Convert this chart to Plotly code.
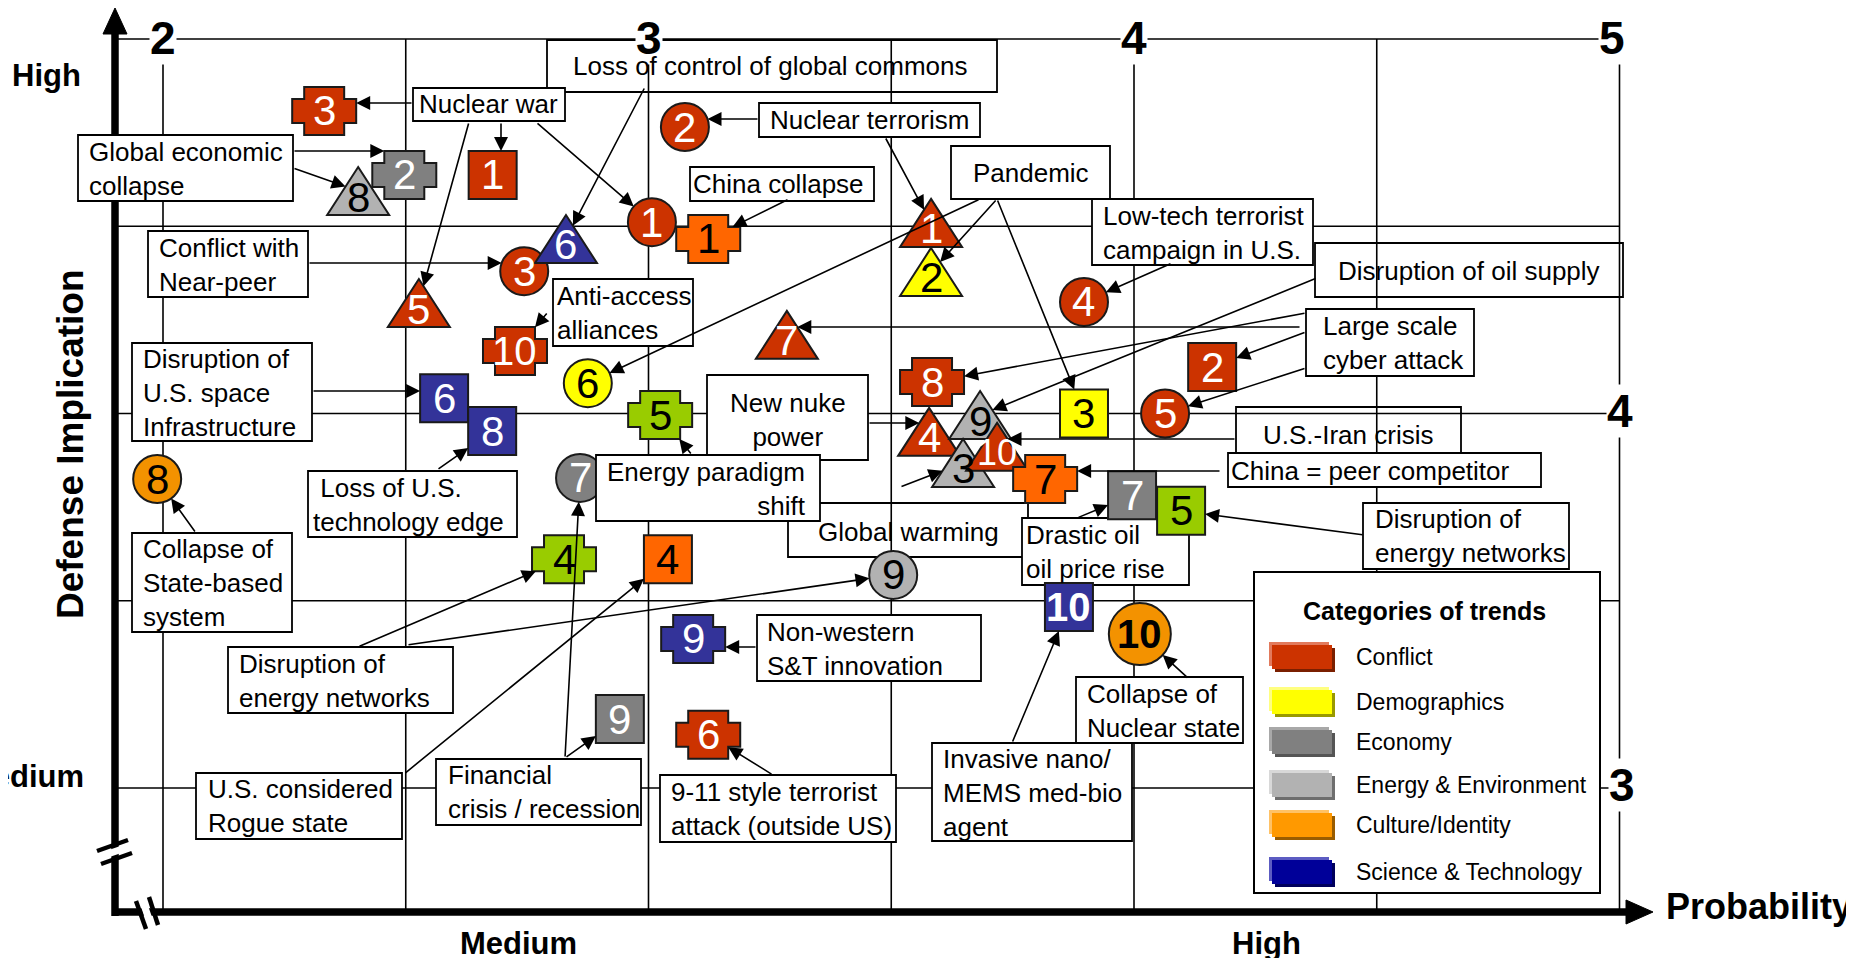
import math
import plotly.graph_objects as go

W, H = 1854, 958
PAGE_PAD = 8  # the html body margin pushes the figure 8 px right and down
FONT = "Liberation Sans, Arial, sans-serif"


# page pixels <-> chart units (x: probability, y: defense implication)
def X(px):
    return 2 + (px - 163) / 485.5


def Y(py):
    return 5 - (py - 39) / 374.5


def PX(x):
    return 163 + (x - 2) * 485.5


def PY(y):
    return 39 + (5 - y) * 374.5


# ---- trends, listed in drawing order (later ones sit on top) ----
probability = [2.332, 2.679, 3.075, 2.402, 2.497, 3.007, 3.123, 2.744, 2.830, 3.582,
               3.582, 2.527, 2.725, 2.875, 3.285, 3.897, 4.161, 4.064, 3.897, 3.584,
               3.578, 3.683, 3.648, 3.718, 3.817, 2.579, 2.678, 3.024, 1.988, 2.859,
               3.996, 4.097, 2.826, 3.040, 3.504, 3.866, 4.012, 3.092, 2.941, 3.123]
implication = [4.808, 4.637, 4.765, 4.594, 4.637, 4.511, 4.466, 4.380, 4.466, 4.509,
               4.378, 4.295, 4.167, 4.081, 4.210, 4.298, 4.124, 4.000, 4.000, 4.084,
               3.951, 3.996, 3.868, 3.911, 3.825, 4.041, 3.953, 3.996, 3.825, 3.828,
               3.782, 3.740, 3.611, 3.611, 3.569, 3.483, 3.411, 3.398, 3.184, 3.142]
trend_no = ["3", "1", "2", "8", "2", "1", "1", "3", "6", "1",
            "2", "5", "10", "6", "7", "4", "2", "5", "3", "8",
            "4", "9", "3", "10", "7", "6", "8", "5", "8", "7",
            "7", "5", "4", "4", "9", "10", "10", "9", "9", "6"]
category = ["conflict", "conflict", "conflict", "energy", "economy", "conflict", "orange", "conflict", "scitech", "conflict",
            "demographics", "conflict", "conflict", "demographics", "conflict", "conflict", "conflict", "conflict", "demographics", "conflict",
            "conflict", "energy", "energy", "conflict", "orange", "scitech", "scitech", "green", "culture", "economy",
            "economy", "green", "green", "orange", "energy", "scitech", "culture", "scitech", "economy", "conflict"]
symbol = ["cross", "square", "circle", "triangle", "cross", "circle", "cross", "circle", "triangle", "triangle",
          "triangle", "triangle", "cross", "circle", "triangle", "circle", "square", "circle", "square", "cross",
          "triangle", "triangle", "triangle", "triangle", "cross", "square", "square", "cross", "circle", "circle",
          "square", "square", "cross", "square", "circle", "square", "circle", "cross", "square", "cross"]

# labels: text, box (left, right, top, bottom px), opaque, text x/y px, alignment
labels = [
    ("Loss of control of global commons", (547, 997, 40, 92), False, 770, 66, "center"),
    ("Nuclear war", (413, 565, 88, 121), True, 488, 104, "center"),
    ("Nuclear terrorism", (759, 980, 103, 137), True, 869, 120, "center"),
    ("Global economic<br>collapse", (78, 293, 135, 201), True, 87, 169, "left"),
    ("China collapse", (690, 874, 167, 201), True, 778, 184, "center"),
    ("Pandemic", (951, 1110, 146, 199), True, 1031, 173, "center"),
    ("Low-tech terrorist<br>campaign in U.S.", (1092, 1313, 199, 265), True, 1101, 233, "left"),
    ("Conflict with<br>Near-peer", (148, 308, 231, 297), True, 157, 265, "left"),
    ("Disruption of oil supply", (1315, 1623, 243, 297), False, 1469, 271, "center"),
    ("Anti-access<br>alliances", (553, 693, 279, 346), True, 555, 313, "left"),
    ("Large scale<br>cyber attack", (1306, 1474, 309, 376), True, 1321, 343, "left"),
    ("Disruption of<br>U.S. space<br>Infrastructure", (132, 312, 343, 441), True, 141, 393, "left"),
    ("New nuke<br>power", (707, 868, 375, 460), True, 788, 420, "center"),
    ("U.S.-Iran crisis", (1236, 1461, 407, 453), False, 1348, 435, "center"),
    ("China = peer competitor", (1228, 1541, 453, 487), True, 1229, 471, "left"),
    (" Loss of U.S.<br>technology edge", (308, 517, 471, 537), True, 311, 505, "left"),
    ("Global warming", (788, 1028, 503, 557), False, 908, 532, "center"),
    ("Energy paradigm<br>shift", (596, 820, 455, 521), True, 808, 489, "right"),
    ("Drastic oil<br>oil price rise", (1022, 1189, 518, 585), True, 1024, 552, "left"),
    ("Disruption of<br>energy networks", (1363, 1569, 503, 569), True, 1373, 536, "left"),
    ("Collapse of<br>State-based<br>system", (132, 292, 533, 632), True, 141, 583, "left"),
    ("Disruption of<br>energy networks", (228, 453, 647, 713), True, 237, 681, "left"),
    ("Non-western<br>S&T innovation", (757, 981, 615, 681), True, 765, 649, "left"),
    ("Collapse of<br>Nuclear state", (1076, 1243, 677, 743), True, 1085, 711, "left"),
    ("U.S. considered<br>Rogue state", (196, 402, 773, 839), True, 206, 806, "left"),
    ("Financial<br>crisis / recession", (436, 641, 759, 825), True, 446, 792, "left"),
    ("9-11 style terrorist<br>attack (outside US)", (660, 896, 775, 842), True, 669, 809, "left"),
    ("Invasive nano/<br>MEMS med-bio<br>agent", (932, 1132, 743, 841), True, 941, 793, "left"),
]

# arrows: tail (px) -> trend index, aim: c = centre, h = horizontal, v = vertical
arrows = [
    (413, 103, 0, "h"), (501, 122, 1, "v"), (469, 122, 11, "c"), (536, 122, 5, "c"),
    (645, 87, 8, "c"), (293, 151, 4, "h"), (293, 168, 3, "c"), (759, 119, 2, "h"),
    (885, 137, 9, "c"), (789, 199, 6, "c"), (997, 199, 10, "c"), (997, 199, 18, "c"),
    (980, 199, 13, "c"), (1172, 263, 15, "c"), (308, 263, 7, "h"), (1317, 278, 21, "c"),
    (1301, 327, 14, "h"), (1306, 313, 19, "c"), (1306, 332, 16, "c"), (1306, 368, 17, "c"),
    (312, 391, 25, "h"), (437, 470, 26, "c"), (692, 455, 27, "c"), (868, 423, 20, "h"),
    (900, 487, 22, "c"), (1236, 439, 23, "h"), (1221, 471, 24, "h"), (1077, 518, 30, "c"),
    (1364, 535, 31, "c"), (196, 533, 28, "c"), (358, 647, 32, "c"), (407, 645, 34, "c"),
    (404, 774, 33, "c"), (565, 758, 29, "c"), (565, 758, 38, "c"), (757, 647, 37, "h"),
    (773, 775, 39, "c"), (1012, 743, 35, "c"), (1189, 679, 36, "c"), (548, 312, 12, "c"),
]

legend_names = ["Conflict", "Demographics", "Economy", "Energy & Environment",
                "Culture/Identity", "Science & Technology"]

fill = {"conflict": "#CC3300", "demographics": "#FFFF00", "economy": "#808080",
        "energy": "#B2B2B2", "culture": "#F39200", "scitech": "#333399",
        "orange": "#FF6600", "green": "#99CC00"}
ink = {"conflict": "white", "demographics": "black", "economy": "white",
       "energy": "black", "culture": "black", "scitech": "white",
       "orange": "black", "green": "black"}
legend_fill = ["#CC3300", "#FFFF00", "#808080", "#B2B2B2", "#FF9900", "#000099"]
legend_light = ["#E27A5C", "#FFFF80", "#A8A8A8", "#D8D8D8", "#FFC266", "#5C5CC2"]
legend_dark = ["#7A1F00", "#999900", "#555555", "#6E6E6E", "#995C00", "#00005C"]
legend_rows = [657, 702, 742, 785, 825, 872]

big_circles = {36}
bold_numbers = {35, 36}
behind_labels = {29}

OUTLINE = {
    "square": [(-24, -24), (24, -24), (24, 24), (-24, 24)],
    "cross": [(-20, -24), (20, -24), (20, -12), (32, -12), (32, 12), (20, 12), (20, 24),
              (-20, 24), (-20, 12), (-32, 12), (-32, -12), (-20, -12)],
    "triangle": [(0, -24), (31, 24), (-31, 24)],
}


def outline(i):
    if symbol[i] == "circle":
        r = 31 if i in big_circles else 24
        return [(r * math.cos(k * math.pi / 24), r * math.sin(k * math.pi / 24)) for k in range(48)]
    return OUTLINE[symbol[i]]


def hit(poly, ox, oy, dx, dy):
    best = None
    n = len(poly)
    for i in range(n):
        x1, y1 = poly[i][0] - ox, poly[i][1] - oy
        x2, y2 = poly[(i + 1) % n][0] - ox, poly[(i + 1) % n][1] - oy
        ex, ey = x2 - x1, y2 - y1
        den = ex * dy - dx * ey
        if abs(den) < 1e-9:
            continue
        t = (ex * y1 - x1 * ey) / den
        s = (dx * y1 - dy * x1) / den
        if t > 0 and -1e-6 <= s <= 1 + 1e-6:
            best = t if best is None else min(best, t)
    return best or 0


def path(pts):
    return "M " + " L ".join(f"{X(px):.5f},{Y(py):.5f}" for px, py in pts) + " Z"


shapes = []


def seg(x0, y0, x1, y1, w=1.6, color="black"):
    shapes.append(dict(type="line", xref="x", yref="y", x0=x0, y0=y0, x1=x1, y1=y1,
                       line=dict(color=color, width=w)))


def rect(x0, x1, y0, y1, color, line_color=None, lw=1.8):
    shapes.append(dict(type="rect", xref="x", yref="y", x0=X(x0), x1=X(x1), y0=Y(y1), y1=Y(y0),
                       fillcolor=color, line=dict(color=line_color or "rgba(0,0,0,0)", width=lw if line_color else 0)))


def marker(i):
    cx, cy = PX(probability[i]), PY(implication[i])
    col = fill[category[i]]
    edge = dict(color="#1a1a1a", width=2)
    if symbol[i] == "circle":
        r = 31 if i in big_circles else 24
        shapes.append(dict(type="circle", xref="x", yref="y", x0=X(cx - r), x1=X(cx + r),
                           y0=Y(cy + r), y1=Y(cy - r), fillcolor=col, line=edge))
    else:
        shapes.append(dict(type="path", xref="x", yref="y",
                           path=path([(cx + dx, cy + dy) for dx, dy in OUTLINE[symbol[i]]]),
                           fillcolor=col, line=edge))


# grid
for gx in [2, 2.5, 3, 3.5, 4, 4.5, 5]:
    seg(gx, Y(912), gx, 5)
for gy in [3, 3.5, 4, 4.5, 5]:
    seg(X(115), gy, 5, gy)

# axes with arrow heads and break marks
seg(X(115), Y(916), X(115), Y(30), w=7.5)
shapes.append(dict(type="path", xref="x", yref="y", path=path([(115, 8), (127, 34), (103, 34)]),
                   fillcolor="black", line=dict(color="black", width=1)))
seg(X(112), Y(912), X(1630), Y(912), w=7.5)
shapes.append(dict(type="path", xref="x", yref="y", path=path([(1653, 912), (1626, 900), (1626, 924)]),
                   fillcolor="black", line=dict(color="black", width=1)))
seg(X(99), Y(857), X(131), Y(846), w=7, color="white")
seg(X(97), Y(851), X(128), Y(840), w=4.5)
seg(X(101), Y(864), X(132), Y(853), w=4.5)
seg(X(142), Y(899), X(152), Y(928), w=7, color="white")
seg(X(136), Y(901), X(146), Y(929), w=4.5)
seg(X(149), Y(897), X(158), Y(925), w=4.5)

for i in range(len(probability)):
    if i in behind_labels:
        marker(i)

for text, (x0, x1, y0, y1), opaque, tx, ty, al in labels:
    rect(x0, x1, y0, y1, "white" if opaque else "rgba(0,0,0,0)", "black")

# legend box
rect(1254, 1600, 572, 893, "white", "black", 2)
for k, yc in enumerate(legend_rows):
    rect(1269, 1329, yc - 15, yc + 9, legend_light[k])
    rect(1275, 1335, yc - 9, yc + 15, legend_dark[k])
    rect(1272, 1332, yc - 12, yc + 12, legend_fill[k])

for i in range(len(probability)):
    if i not in behind_labels:
        marker(i)

ann = []

# grid level numbers
for txt, x, y, xs in [("2", 2, 5, 0), ("3", 3, 5, 0), ("4", 4, 5, 0), ("5", 5, 5, -8),
                      ("4", 5, 4, 0), ("3", 5, 3, 2)]:
    ann.append(dict(x=x, y=y, text=f"<b>{txt}</b>", showarrow=False, xshift=xs, yshift=3 if y < 5 else 1,
                    font=dict(family=FONT, size=46, color="black"), bgcolor="white", borderpad=0))

# trend numbers
for i in range(len(probability)):
    n = trend_no[i]
    size = 42 if len(n) == 1 else 40
    if symbol[i] == "triangle" and len(n) == 2:
        size = 36
    txt = f"<b>{n}</b>" if i in bold_numbers else n
    ann.append(dict(x=probability[i], y=implication[i], text=txt, showarrow=False,
                    yshift=-6 if symbol[i] == "triangle" else 0,
                    font=dict(family=FONT, size=size, color=ink[category[i]])))

# label texts
for text, box, opaque, tx, ty, al in labels:
    ann.append(dict(x=X(tx), y=Y(ty), text=text, showarrow=False, xanchor=al, align=al,
                    font=dict(family=FONT, size=26, color="black")))

# connector arrows
for tx, ty, k, aim in arrows:
    cx, cy = PX(probability[k]), PY(implication[k])
    ox = tx - cx if aim == "v" else 0
    oy = ty - cy if aim == "h" else 0
    dx, dy = tx - (cx + ox), ty - (cy + oy)
    L = math.hypot(dx, dy)
    dx, dy = dx / L, dy / L
    t = hit(outline(k), ox, oy, dx, dy)
    hx, hy = cx + ox + dx * t, cy + oy + dy * t
    ann.append(dict(x=X(hx), y=Y(hy), ax=X(tx), ay=Y(ty), xref="x", yref="y", axref="x", ayref="y",
                    text="", showarrow=True, arrowhead=2, arrowsize=1.75, arrowwidth=1.6,
                    arrowcolor="black", standoff=0))

# axis words
for txt, px, py, anchor, size in [("High", 46, 75, "center", 31), ("Medium", 86, 776, "right", 31),
                                  ("Medium", 518, 943, "center", 31), ("High", 1266, 943, "center", 31),
                                  ("Probability", 1664, 906, "left", 36)]:
    ann.append(dict(x=X(px), y=Y(py), text=f"<b>{txt}</b>", showarrow=False, xanchor=anchor,
                    font=dict(family=FONT, size=size, color="black")))
ann.append(dict(x=X(70), y=Y(444), text="<b>Defense Implication</b>", showarrow=False, textangle=-90,
                font=dict(family=FONT, size=37, color="black")))

# legend texts
ann.append(dict(x=X(1424), y=Y(611), text="<b>Categories of trends</b>", showarrow=False,
                font=dict(family=FONT, size=25, color="black")))
for name, yc in zip(legend_names, legend_rows):
    ann.append(dict(x=X(1354), y=Y(yc), text=name, showarrow=False, xanchor="left",
                    font=dict(family=FONT, size=23, color="black")))

fig = go.Figure(go.Scatter(x=probability, y=implication, mode="markers",
                           marker=dict(size=40, opacity=0),
                           hovertext=[f"{c} {n}" for c, n in zip(category, trend_no)],
                           hoverinfo="text"))
fig.update_layout(
    width=W, height=H, margin=dict(l=0, r=0, t=0, b=0),
    xaxis=dict(range=[X(PAGE_PAD), X(PAGE_PAD + W)], visible=False),
    yaxis=dict(range=[Y(PAGE_PAD + H), Y(PAGE_PAD)], visible=False),
    plot_bgcolor="white", paper_bgcolor="white", showlegend=False,
    shapes=shapes, annotations=ann,
)
fig.write_html("out.html")
